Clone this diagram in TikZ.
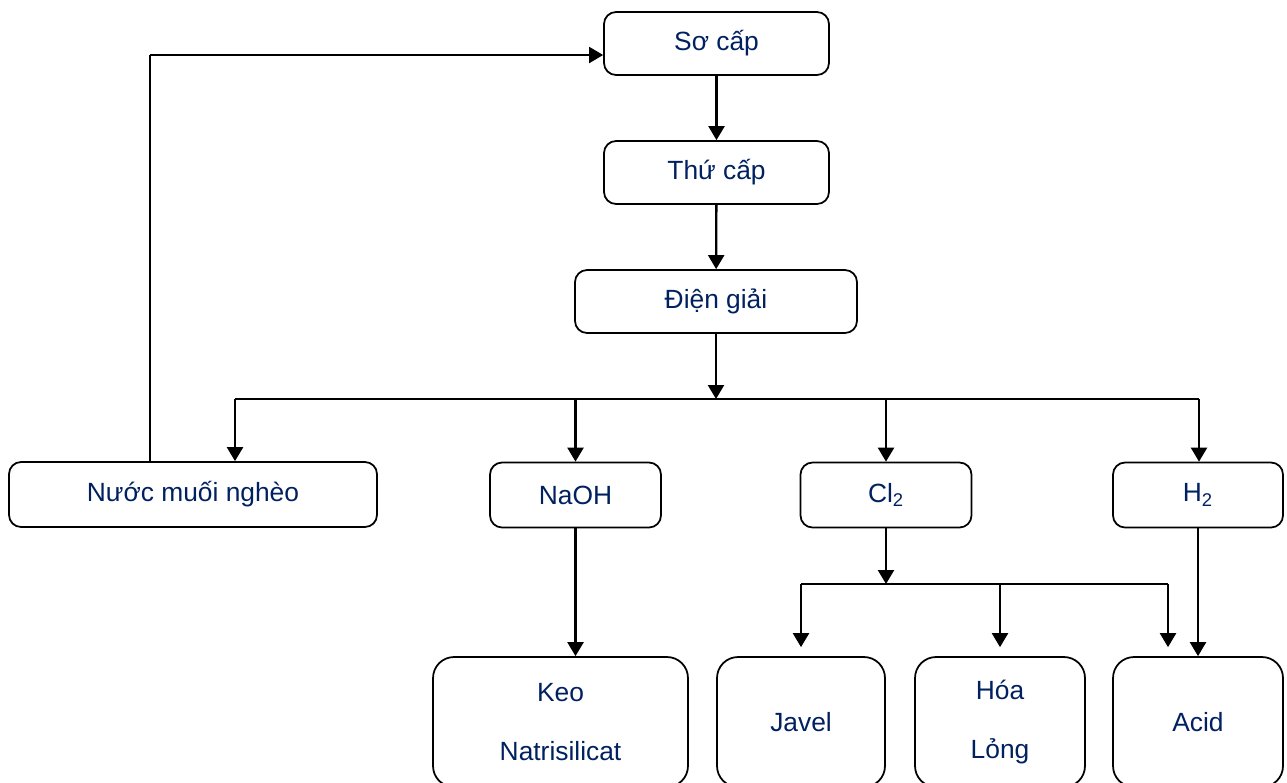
\documentclass[tikz,border=0pt]{standalone}
\usepackage{fontspec}
\setmainfont{Liberation Sans}
\usepackage{tikz}
\usetikzlibrary{arrows.meta,calc}
\definecolor{txtblue} {RGB} {0,32,96}

\tikzset{
    box/.style = {draw, line width=1pt, rounded corners=0.24cm, minimum height=1.26cm,
        text=txtblue, font=\fontsize{15}{17}\selectfont, inner sep=0pt},
    bigbox/.style = {draw, line width=1pt, rounded corners=0.42cm, minimum height=2.6cm,
        minimum width=3.4cm, text=txtblue, align=center,
        font=\fontsize{15}{33.5}\selectfont, inner sep=0pt},
    arr/.style = {line width=1.3pt, -{Triangle[width=0.32cm,length=0.28cm]}},
    thinline/.style = {line width=0.9pt}
}

\begin{document}
\begin{tikzpicture}[x=0.02cm, y=-0.02cm]
    \useasboundingbox (0,0) rectangle (1287,782);
    \node [box, minimum width=4.5cm] (so) at (716.5,43.5) {Sơ cấp};
    \node [box, minimum width=4.5cm] (thu) at (716.5,172.5) {Thứ cấp};
    \node [box, minimum width=5.64cm] (dien) at (716,301.5) {Điện giải};
    \node [box, minimum width=7.36cm, minimum height=1.3cm] (nuoc) at (193,494.5) {Nước muối nghèo};
    \node [box, minimum width=3.42cm, minimum height=1.3cm] (naoh) at (575.5,495) {NaOH};
    \node [box, minimum width=3.42cm, minimum height=1.3cm] (cl) at (886,495) {Cl\textsubscript{2}};
    \node [box, minimum width=3.4cm, minimum height=1.3cm] (h) at (1198,495) {H\textsubscript{2}};
    \node [bigbox, minimum width=5.1cm] (keo) at (560.5,722) {Keo\\Natrisilicat};
    \node [bigbox, minimum width=3.36cm] (javel) at (801,722) {Javel};
    \node [bigbox] (hoa) at (1000,722) {Hóa\\Lỏng};
    \node [bigbox] (acid) at (1198,722) {Acid};

    \coordinate (bus) at (716,399);
    \coordinate (busl) at (235,399);
    \coordinate (busr) at (1199,399);
    \coordinate (fb) at (150,55);
    \coordinate (clbus) at (886,584);
    \coordinate (clbusl) at (801,584);
    \coordinate (clbusr) at (1168,584);

    \draw [arr] (so) -- (thu);
    \draw [arr] (thu) -- (dien);
    \draw [arr] (dien) -- (bus);
    \draw [thinline] (busl) -- (busr);
    \draw [arr] (busl) -- (nuoc.north -| busl);
    \draw [arr] (bus -| naoh) -- (naoh);
    \draw [arr] (bus -| cl) -- (cl);
    \draw [arr] (busr) -- (h.north -| busr);
    \draw [thinline] (nuoc.north -| fb) -- (fb);
    \draw [arr, line width=1.1pt] (fb) -- (fb -| so.west);

    \draw [arr] (naoh) -- (naoh |- keo.north);
    \draw [arr] (cl) -- (clbus);
    \draw [thinline] (clbusl) -- (clbusr);
    \draw [arr, shorten >=0.18cm] (clbusl) -- (javel.north -| clbusl);
    \draw [arr, shorten >=0.18cm] (clbus -| hoa) -- (hoa);
    \draw [arr, shorten >=0.18cm] (clbusr) -- (acid.north -| clbusr);
    \draw [arr] (h) -- (acid);
\end{tikzpicture}
\end{document}
